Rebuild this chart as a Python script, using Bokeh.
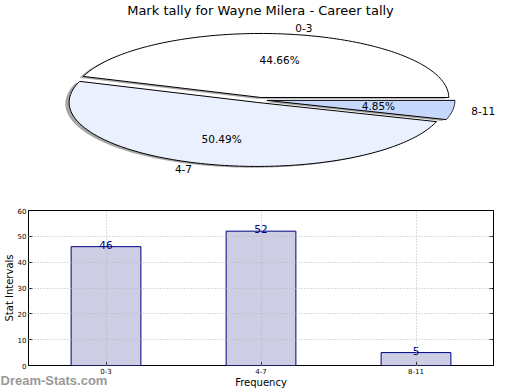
import numpy as np
from bokeh.plotting import figure
from bokeh.models import Range1d, FactorRange, Label, FixedTicker, LinearAxis
from bokeh.layouts import column
from bokeh.embed import file_html
from bokeh.resources import INLINE
from bokeh.core.properties import value

# ---------------- data ----------------
title_text = "Mark tally for Wayne Milera - Career tally"
categories = ["0-3", "4-7", "8-11"]
counts = [46, 52, 5]
slice_colors = ["#ffffff", "#eaf0fd", "#c6d9fd"]
y_ticks = [0, 10, 20, 30, 40, 50, 60]
y_label = "Stat Intervals"
x_label = "Frequency"
watermark = "Dream-Stats.com"

FONT = "DejaVu Sans"
W = 520
H1 = 190
H2 = 200

# ---------------- pie (elliptical, exploded, shadowed) ----------------
pie = figure(width=W, height=H1, x_range=Range1d(0, W), y_range=Range1d(H1, 0),
             output_backend="svg", toolbar_location=None, min_border=0,
             x_axis_location=None, y_axis_location=None)
pie.frame_align = False
pie.grid.visible = False
pie.outline_line_color = None
pie.background_fill_color = None
pie.border_fill_color = None

cx, cy, rx, ry = 259.0, 99.5, 188.0, 64.0
explode = 0.04
shadow = 0.02

vals = np.array(counts, dtype=float)
frac = vals / vals.sum()
edges = np.concatenate([[0.0], np.cumsum(frac)]) * 2 * np.pi

sh_xs, sh_ys, sl_xs, sl_ys = [], [], [], []
lab_x, lab_y, lab_t, lab_a = [], [], [], []
pct_x, pct_y, pct_t = [], [], []
for i in range(len(vals)):
    t0, t1 = edges[i], edges[i + 1]
    mid = 0.5 * (t0 + t1)
    ox = cx + explode * rx * np.cos(mid)
    oy = cy - explode * ry * np.sin(mid)
    th = np.linspace(t0, t1, 120)
    xs = np.concatenate([[ox], ox + rx * np.cos(th)])
    ys = np.concatenate([[oy], oy - ry * np.sin(th)])
    sl_xs.append(list(xs)); sl_ys.append(list(ys))
    sh_xs.append(list(xs - shadow * rx)); sh_ys.append(list(ys + shadow * ry))
    lab_x.append(ox + 1.1 * rx * np.cos(mid))
    lab_y.append(oy - 1.1 * ry * np.sin(mid))
    lab_t.append(categories[i])
    lab_a.append("left" if np.cos(mid) > 0 else "right")
    pct_x.append(ox + 0.6 * rx * np.cos(mid))
    pct_y.append(oy - 0.6 * ry * np.sin(mid))
    pct_t.append("%.2f%%" % (100 * frac[i]))

pie.patches(sh_xs, sh_ys, fill_color="#4d4d4d", fill_alpha=0.5, line_color=None)
pie.patches(sl_xs, sl_ys, fill_color=slice_colors, line_color="black", line_width=1)
for x, y, t, a in zip(lab_x, lab_y, lab_t, lab_a):
    pie.text(x=[x], y=[y], text=[t], text_align=a, text_baseline="middle",
             text_font=value(FONT), text_font_size="10.5px", text_color="black")
pie.text(x=pct_x, y=pct_y, text=pct_t, text_align="center", text_baseline="middle",
         text_font=value(FONT), text_font_size="10.5px", text_color="black")
pie.text(x=[260], y=[9.5], text=[title_text], text_align="center", text_baseline="middle",
         text_font=value(FONT), text_font_size="13px", text_color="black")

# ---------------- bar chart ----------------
bar = figure(width=W, height=H2, x_range=FactorRange(factors=categories, range_padding=0),
             y_range=Range1d(0, 60), output_backend="svg", toolbar_location=None,
             min_border_top=20, min_border_right=27, min_border_left=0, min_border_bottom=0)
bar.frame_align = False
bar.vbar(x=categories, top=counts, width=0.45, fill_color="#cdcde4",
         line_color="#000080", line_width=1)
bar.text(x=categories, y=counts, text=[str(c) for c in counts], text_align="center",
         text_baseline="bottom", y_offset=2, text_font=value(FONT),
         text_font_size="10.5px", text_color="#000080")

bar.outline_line_color = "black"
bar.outline_line_width = 1
bar.background_fill_color = "white"
bar.border_fill_color = "white"
for g in (bar.xgrid, bar.ygrid):
    g.grid_line_color = "#b8b8b8"
    g.grid_line_dash = "1 2"
    g.grid_line_width = 1
    g.level = "overlay"
bar.yaxis.ticker = FixedTicker(ticks=y_ticks)
for ax in (bar.xaxis, bar.yaxis):
    ax.axis_line_color = None
    ax.major_tick_in = 4
    ax.major_tick_out = 0
    ax.major_tick_line_color = "black"
    ax.minor_tick_line_color = None
    ax.major_label_text_font = FONT
    ax.major_label_text_font_size = "7px"
    ax.major_label_text_color = "black"
    ax.major_label_standoff = 2
    ax.axis_label_text_font = FONT
    ax.axis_label_text_font_size = "10px"
    ax.axis_label_text_font_style = "normal"
    ax.axis_label_text_color = "black"
    ax.axis_label_standoff = 0

bar.yaxis.axis_label = y_label
bar.xaxis.axis_label = x_label

# watermark lives in the (otherwise empty) top border panel so that it is not
# clipped by the frame and does not take extra room at the bottom
bar.add_layout(Label(x=-28, y=-170, x_units="screen", y_units="screen", text=watermark,
                     text_font="Liberation Sans", text_font_style="bold",
                     text_font_size="13px", text_color="#999999",
                     text_baseline="middle", text_align="left"), "above")

# inward tick marks on the right edge of the frame (no labels)
right_ax = LinearAxis(ticker=FixedTicker(ticks=y_ticks), axis_line_color=None,
                      major_tick_in=4, major_tick_out=0, major_tick_line_color="black",
                      minor_tick_line_color=None, major_label_text_font_size="1px",
                      major_label_text_color=None, major_label_standoff=0)
bar.add_layout(right_ax, "right")

page = column(pie, bar, spacing=0)
open("out.html", "w").write(file_html(page, INLINE))
